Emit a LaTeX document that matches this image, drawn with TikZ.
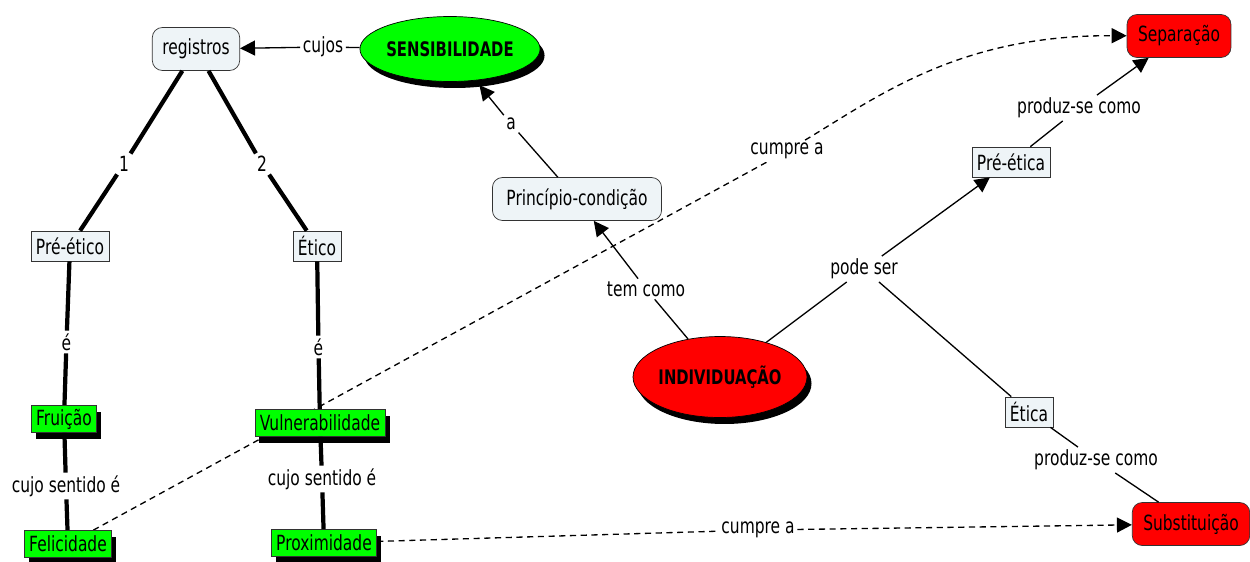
\documentclass[tikz,border=0pt]{standalone}
\usepackage{fontspec}
\setmainfont{DejaVu Sans}[FakeStretch=0.74]
\usetikzlibrary{shapes.geometric,shadows,backgrounds,arrows.meta}
\definecolor{boxfill}{RGB}{238,244,247}
\definecolor{mapgreen}{RGB}{0,255,0}
\definecolor{mapred}{RGB}{255,0,0}

\begin{document}
\begin{tikzpicture}[x=0.02cm, y=-0.02cm, font=\fontsize{11.9}{14}\selectfont,
    shadowed/.style={drop shadow={shadow xshift=0.09cm, shadow yshift=-0.13cm, opacity=1, fill=black}},
    conc/.style={draw=black!80, fill=boxfill, rounded corners=0.2cm, minimum height=0.86cm, inner xsep=0.28cm},
    sqbox/.style={draw=black!80, fill=boxfill, minimum height=0.6cm, inner xsep=0.1cm, inner ysep=0.05cm},
    grnbox/.style={draw=black!80, fill=mapgreen, minimum height=0.54cm, inner xsep=0.1cm, inner ysep=0.05cm, shadowed},
    redbox/.style={draw=black!80, fill=mapred, rounded corners=0.2cm, minimum height=0.86cm, inner xsep=0.22cm},
    bigell/.style={ellipse, draw=black, inner sep=0pt, font=\bfseries\fontsize{11.4}{14}\selectfont, shadowed},
    lbl/.style={fill=white, inner sep=0.05cm},
    link/.style={line width=0.75pt},
    heavy/.style={line width=2.4pt},
    tip/.style={-{Triangle[length=0.3cm,width=0.3cm]}},
    cumpreline/.style={line width=0.75pt, dash pattern=on 3.5pt off 2.6pt}]

  \useasboundingbox (0,0) rectangle (1250,561);

  % concepts
  \node[conc, inner xsep=0.2cm] (reg) at (196,49) {registros};
  \node[bigell, fill=mapgreen, minimum width=3.32cm, minimum height=1.3cm] (sens) at (450,49) {SENSIBILIDADE};
  \node[conc] (princ) at (577,199) {Princípio-condição};
  \node[bigell, fill=mapred, minimum width=3.36cm, minimum height=1.62cm] (indiv) at (720,377) {INDIVIDUAÇÃO};

  \node[sqbox] (pret) at (70,246) {Pré-ético};
  \node[sqbox] (etico) at (317,246) {Ético};
  \node[grnbox] (fru) at (64,419) {Fruição};
  \node[grnbox] (vuln) at (320,423) {Vulnerabilidade};
  \node[grnbox] (feli) at (68,544) {Felicidade};
  \node[grnbox] (prox) at (324,543) {Proximidade};

  \node[sqbox] (preta) at (1011,162) {Pré-ética};
  \node[sqbox] (etica) at (1029,412) {Ética};
  \node[redbox] (sep) at (1179,36) {Separação};
  \node[redbox] (subst) at (1191,524) {Substituição};

  % linking phrases
  \begin{scope}[every node/.style={lbl}]
    \node (cujos) at (323,47) {cujos};
    \node (lbla) at (511,124) {a};
    \node (one) at (124,164) {1};
    \node (two) at (262,164) {2};
    \node (e1) at (66.5,342) {é};
    \node (e2) at (318.5,347) {é};
    \node (sent1) at (66,486) {cujo sentido é};
    \node (sent2) at (322,479) {cujo sentido é};
    \node (tem) at (646,289) {tem como};
    \node (pode) at (864,269) {pode ser};
    \node (prod1) at (1079,108) {produz-se como};
    \node (prod2) at (1096,460) {produz-se como};
    \node (cump1) at (787,151) {cumpre a};
    \node (cump2) at (758,530) {cumpre a};
  \end{scope}

  \foreach \from/\via/\to in {reg/one/pret, reg/two/etico, pret/e1/fru, etico/e2/vuln, fru/sent1/feli, vuln/sent2/prox}
    \draw[heavy] (\from) -- (\via) (\via) -- (\to);

  \draw[link] (sens) -- (cujos);
  \draw[link, tip] (cujos) -- (reg);
  \draw[link] (princ) -- (lbla);
  \draw[link, tip, shorten >=0.12cm] (lbla) -- (sens);
  \draw[link] (indiv) -- (tem);
  \draw[link, tip] (tem) -- (princ);
  \draw[link] (indiv) -- (pode);
  \draw[link, tip] (pode) -- (preta);
  \draw[link] (pode) -- (etica);
  \draw[link] (preta) -- (prod1);
  \draw[link, tip] (prod1) -- (sep);
  \draw[link] (etica) -- (prod2) (prod2) -- (subst);

  \begin{scope}[on background layer]
    \draw[cumpreline] (feli) -- (cump1);
  \end{scope}
  \draw[cumpreline, tip] (cump1) .. controls (880,95) and (960,35) .. (sep);
  \draw[cumpreline] (prox) -- (cump2);
  \draw[cumpreline, tip] (cump2) -- (subst);

\end{tikzpicture}
\end{document}
